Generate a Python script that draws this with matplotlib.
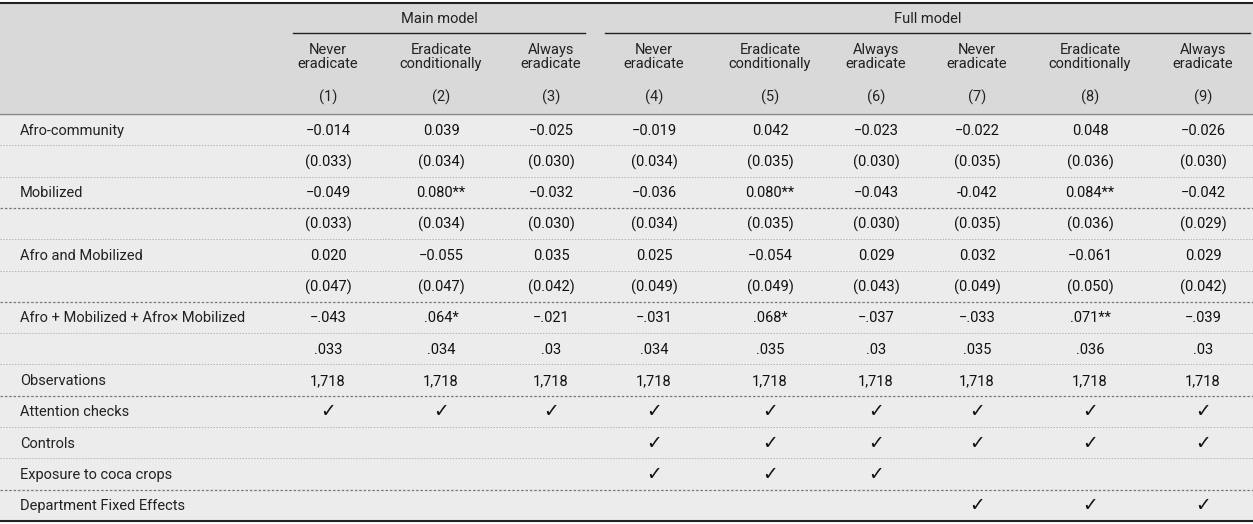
import matplotlib
matplotlib.use("Agg")
import matplotlib.pyplot as plt
from matplotlib.patches import Rectangle

plt.rcParams['font.family'] = ['Roboto', 'DejaVu Sans']

groups = [("Main model", 0, 2), ("Full model", 3, 8)]
col_names = ["Never\neradicate", "Eradicate\nconditionally", "Always\neradicate"] * 3
col_nums = ["(%d)" % i for i in range(1, 10)]
row_labels = ["Afro-community", "", "Mobilized", "", "Afro and Mobilized", "",
              "Afro + Mobilized + Afro\u00d7 Mobilized", "", "Observations",
              "Attention checks", "Controls", "Exposure to coca crops",
              "Department Fixed Effects"]
M = "\u2212"
ck = "\u2713"
cells = [
    [M+"0.014", "0.039", M+"0.025", M+"0.019", "0.042", M+"0.023", M+"0.022", "0.048", M+"0.026"],
    ["(0.033)", "(0.034)", "(0.030)", "(0.034)", "(0.035)", "(0.030)", "(0.035)", "(0.036)", "(0.030)"],
    [M+"0.049", "0.080**", M+"0.032", M+"0.036", "0.080**", M+"0.043", "-0.042", "0.084**", M+"0.042"],
    ["(0.033)", "(0.034)", "(0.030)", "(0.034)", "(0.035)", "(0.030)", "(0.035)", "(0.036)", "(0.029)"],
    ["0.020", M+"0.055", "0.035", "0.025", M+"0.054", "0.029", "0.032", M+"0.061", "0.029"],
    ["(0.047)", "(0.047)", "(0.042)", "(0.049)", "(0.049)", "(0.043)", "(0.049)", "(0.050)", "(0.042)"],
    [M+".043", ".064*", M+".021", M+".031", ".068*", M+".037", M+".033", ".071**", M+".039"],
    [".033", ".034", ".03", ".034", ".035", ".03", ".035", ".036", ".03"],
    ["1,718"] * 9,
    [ck] * 9,
    ["", "", "", ck, ck, ck, ck, ck, ck],
    ["", "", "", ck, ck, ck, "", "", ""],
    ["", "", "", "", "", "", ck, ck, ck],
]
strong_after = {2, 5, 8, 11}

W, H = 1253, 524
fig = plt.figure(figsize=(W/100, H/100), dpi=100)
ax = fig.add_axes([0, 0, 1, 1])
ax.set_xlim(0, W); ax.set_ylim(H, 0); ax.axis('off')

col_x = [328, 441, 551, 654, 770, 876, 977, 1090, 1203]
hdr_bottom = 114
row_h = (521 - hdr_bottom) / len(row_labels)
fs = 10.5

ax.add_patch(Rectangle((0, 3), W, hdr_bottom - 3, color="#d9d9d9", zorder=0))
ax.add_patch(Rectangle((0, hdr_bottom), W, 521 - hdr_bottom, color="#ececec", zorder=0))
ax.plot([0, W], [3, 3], color="#222", lw=1.5)
ax.plot([0, W], [521, 521], color="#222", lw=1.5)
ax.plot([0, W], [hdr_bottom, hdr_bottom], color="#888", lw=1)

spans = {0: (293, 585), 1: (605, 1250)}
for gi, (name, a, b) in enumerate(groups):
    x0, x1 = spans[gi]
    ax.text((x0 + x1) / 2, 19, name, ha='center', va='center', fontsize=fs, color="#222")
    ax.plot([x0, x1], [33, 33], color="#222", lw=1)
for j, x in enumerate(col_x):
    ax.text(x, 57, col_names[j], ha='center', va='center', fontsize=fs, color="#222", linespacing=1.05)
    ax.text(x, 97, col_nums[j], ha='center', va='center', fontsize=fs, color="#222")

for i, lab in enumerate(row_labels):
    yc = hdr_bottom + (i + 0.5) * row_h + 1
    ax.text(20, yc, lab, ha='left', va='center', fontsize=fs, color="#222")
    for j, x in enumerate(col_x):
        v = cells[i][j]
        if v:
            ax.text(x, yc, v, ha='center', va='center', fontsize=fs + (3 if v == ck else 0),
                    color="#111", fontweight='bold' if v == ck else 'normal')
    if i < len(row_labels) - 1:
        yb = hdr_bottom + (i + 1) * row_h
        if i in strong_after:
            ax.plot([0, W], [yb, yb], color="#777", lw=0.9, ls=(0, (2, 1.5)))
        else:
            ax.plot([0, W], [yb, yb], color="#b5b5b5", lw=0.7, ls=(0, (1.5, 1.5)))

fig.savefig("out.png", dpi=100)
